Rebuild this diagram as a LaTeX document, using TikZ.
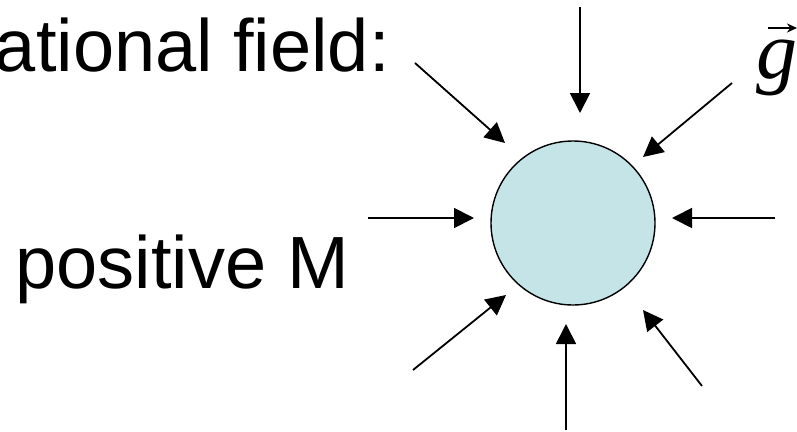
\documentclass[tikz,border=0pt]{standalone}
\usepackage{fontspec}
\setmainfont{Liberation Sans}
\newfontfamily\gfont{Liberation Serif}
\usetikzlibrary{arrows.meta}
\definecolor{massblue}{HTML}{C5E4E8}
\tikzset{
  field/.style={line width=1.8pt,-{Triangle[length=20pt,width=20pt]}},
  vecbar/.style={line width=2pt,-{Stealth[length=10pt,width=9pt]}},
  bigtext/.style={inner sep=0pt,font=\fontsize{74}{80}\selectfont},
}
\begin{document}
\begin{tikzpicture}[x=1pt,y=-1pt]
 \useasboundingbox (0,0) rectangle (797,431);
 \node[bigtext,anchor=base east] (title) at (390,71) {ational field:};
 \node[bigtext,anchor=base east] (mass) at (349,288) {positive M};
 \node[inner sep=0pt,anchor=base west,font=\gfont\fontsize{82}{86}\selectfont\itshape] (g) at (756,78) {g};
 \coordinate (gv0) at (768,28); \coordinate (gv1) at (797,28);
 \draw[vecbar] (gv0)--(gv1);
 \node[circle,draw,line width=1.4pt,fill=massblue,minimum size=164pt] (M) at (573,223) {};
 % arrows pointing in
 \coordinate (n0) at (580,7);   \coordinate (n1) at (580,113);
 \coordinate (nw0) at (415,63); \coordinate (nw1) at (505,143);
 \coordinate (ne0) at (732,83); \coordinate (ne1) at (643,157);
 \coordinate (w0) at (368,218); \coordinate (w1) at (474,218);
 \coordinate (e0) at (775,218); \coordinate (e1) at (672,218);
 \coordinate (sw0) at (413,370);\coordinate (sw1) at (506,295);
 \coordinate (s0) at (566,430); \coordinate (s1) at (566,324);
 \coordinate (se0) at (702,386);\coordinate (se1) at (643,310);
 \draw[field] (n0)--(n1);
 \draw[field] (nw0)--(nw1);
 \draw[field] (ne0)--(ne1);
 \draw[field] (w0)--(w1);
 \draw[field] (e0)--(e1);
 \draw[field] (sw0)--(sw1);
 \draw[field] (s0)--(s1);
 \draw[field] (se0)--(se1);
\end{tikzpicture}
\end{document}
